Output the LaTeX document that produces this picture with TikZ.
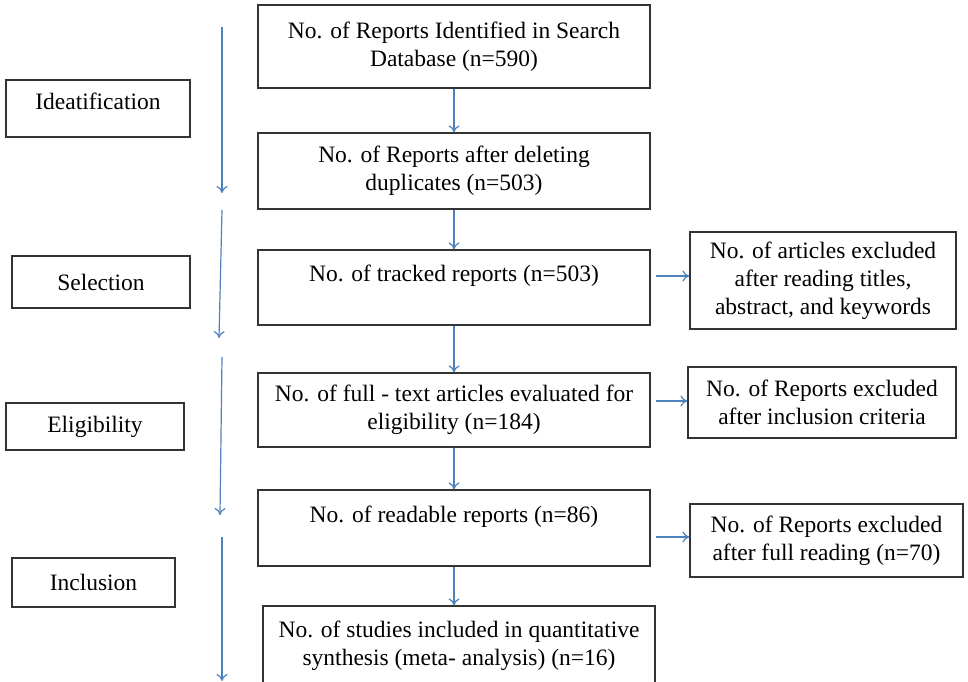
\documentclass[tikz,border=0pt]{standalone}
\usepackage{fontspec}
\setmainfont{Liberation Serif}
\newfontfamily\reportfont{Liberation Serif}
\usetikzlibrary{arrows.meta, positioning}
\definecolor{flowblue}{RGB}{79,129,189}
\tikzset{
    boxed/.style={draw=black!80, line width=1.2pt, rectangle, align=center, inner sep=0pt, font=\reportfont\fontsize{23.5}{28}\selectfont},
    stage/.style={boxed},
    side/.style={boxed},
    flow/.style={-{To[length=7pt,width=11pt]}, draw=flowblue, line width=1.2pt},
    phase/.style={flow} }

\begin{document}
\begin{tikzpicture}[x=1pt, y=-1pt]
			\useasboundingbox (0,0) rectangle (968,681);
			% main column
			\node[boxed, minimum width=392, minimum height=83] (REPID) at (454,46.5) {No. of Reports Identified in Search\\Database (n=590)};
			\node[boxed, minimum width=392, minimum height=76] (NODUP) at (454,171) {No. of Reports after deleting\\duplicates (n=503)};
			\node[boxed, minimum width=392, minimum height=75] (TRACK) at (454,287.5) {No. of tracked reports (n=503)\\ \mbox{}};
			\node[boxed, minimum width=392, minimum height=74] (FULL) at (454,410) {No. of full - text articles evaluated for\\eligibility (n=184)};
			\node[boxed, minimum width=392, minimum height=76] (READ) at (454,528) {No. of readable reports (n=86)\\ \mbox{}};
			\node[boxed, minimum width=392, minimum height=80] (META) at (459,646) {No. of studies included in quantitative\\synthesis (meta- analysis) (n=16)};
			% excluded
			\node[side, minimum width=266, minimum height=97] (EXTITLE) at (823,280.5) {No. of articles excluded\\after reading titles,\\abstract, and keywords};
			\node[side, minimum width=268, minimum height=71] (EXCRIT) at (822,402.5) {No. of Reports excluded\\after inclusion criteria};
			\node[side, minimum width=273, minimum height=73] (EXREAD) at (826.5,540.5) {No. of Reports excluded\\after full reading (n=70)};
			% stages
			\node[stage, minimum width=184, minimum height=57, text depth=14pt] (IDENT) at (98,108.5) {Ideatification};
			\node[stage, minimum width=178, minimum height=52] (SELECT) at (101,282) {Selection};
			\node[stage, minimum width=178, minimum height=47] (ELIG) at (95,426.5) {Eligibility};
			\node[stage, minimum width=163, minimum height=49] (INCL) at (93.5,582.5) {Inclusion};
			\coordinate (ia) at (222,27);
			\coordinate (ib) at (222,193);
			\coordinate (sa) at (222,210);
			\coordinate (sb) at (219,338);
			\coordinate (ea) at (222,357);
			\coordinate (eb) at (220,515);
			\coordinate (na) at (222,537);
			\coordinate (nb) at (222,681);
			% ----
			\draw[flow] (REPID) -- (NODUP);
			\draw[flow] (NODUP) -- (TRACK);
			\draw[flow] (TRACK) -- (FULL);
			\draw[flow] (FULL) -- (READ);
			\draw[flow] (READ.south) -- (READ.south |- META.north);
			\draw[flow, shorten <=5pt] ([yshift=11.5pt]TRACK.east) -- ([yshift=11.5pt]TRACK.east -| EXTITLE.west);
			\draw[flow, shorten <=5pt] ([yshift=9pt]FULL.east) -- ([yshift=9pt]FULL.east -| EXCRIT.west);
			\draw[flow, shorten <=5pt] ([yshift=-9pt]READ.east) -- ([yshift=-9pt]READ.east -| EXREAD.west);
			\draw[phase] (ia) -- (ib);
			\draw[phase] (sa) -- (sb);
			\draw[phase] (ea) -- (eb);
			\draw[phase] (na) -- (nb);
		\end{tikzpicture}
\end{document}
